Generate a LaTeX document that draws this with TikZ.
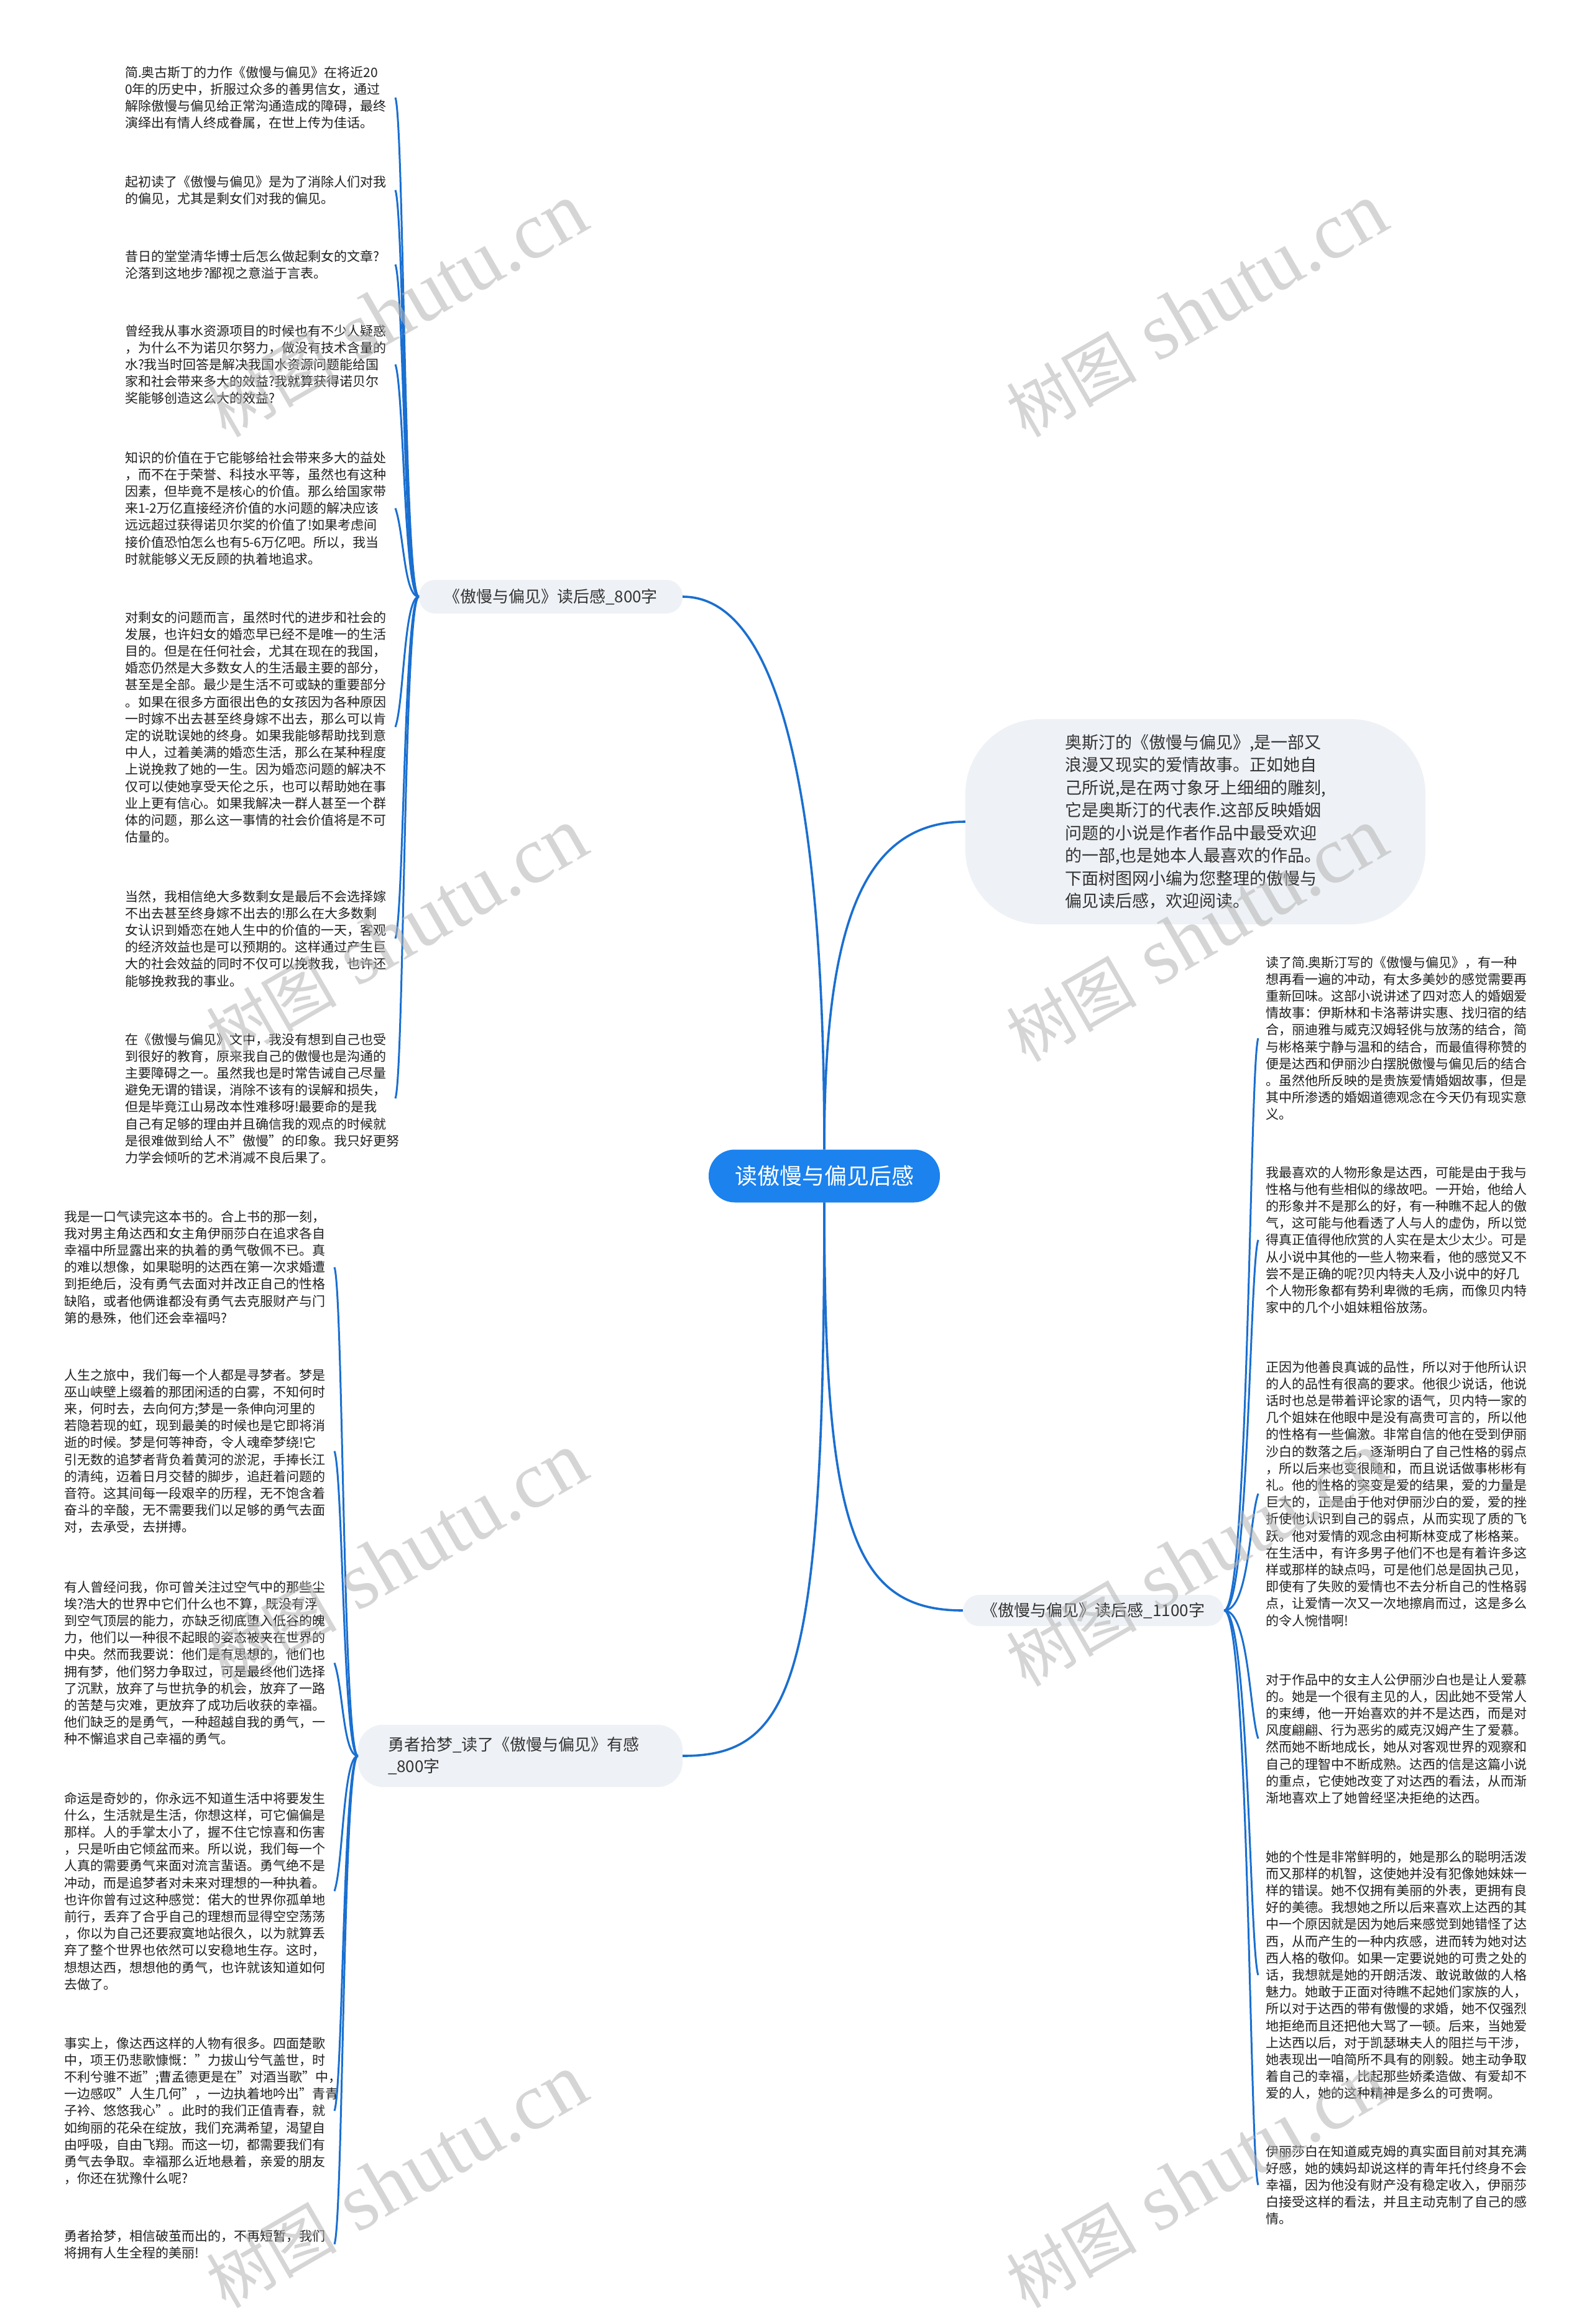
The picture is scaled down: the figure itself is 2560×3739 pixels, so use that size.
\documentclass[tikz,border=0pt]{standalone}
\usepackage{fontspec}
\setmainfont{Noto Sans CJK SC}
\newfontfamily\wmlatin{Liberation Serif}
\definecolor{linecol}{HTML}{1A6FD0}
\definecolor{nodeblue}{HTML}{1B82EE}
\definecolor{pillgray}{HTML}{EEF1F5}
\definecolor{leaftext}{HTML}{1F1F1F}
\definecolor{labeltext}{HTML}{333333}
\definecolor{wmgray}{HTML}{B4B4B4}
\begin{document}
\begin{tikzpicture}[x=1pt,y=-1pt,
  leaf/.style={anchor=base west, text width=423pt, align=left, inner sep=0pt, outer xsep=12pt,
    font=\fontsize{21}{27.2}\selectfont, text=leaftext},
  pill/.style={fill=pillgray, text=labeltext, rounded corners=26pt, inner sep=0pt,
    font=\fontsize{26}{35}\selectfont},
  mainline/.style={draw=linecol, line width=3.6pt},
  leafline/.style={draw=linecol, line width=3pt},
  wmark/.style={text=wmgray, opacity=0.55, rotate=30, inner sep=0pt}
]
\fill[white] (0,0) rectangle (2560,3739);
\useasboundingbox (0,0) rectangle (2560,3739);

% central node
\node[fill=nodeblue, text=white, rounded corners=42pt, minimum width=372pt, minimum height=85pt,
  font=\fontsize{36}{40}\selectfont] (center) at (1326,1892) {读傲慢与偏见后感};

% intro bubble
\node[fill=pillgray, text=labeltext, rounded corners=120pt, text width=420pt, align=left,
  minimum width=740pt, minimum height=330pt, inner sep=0pt,
  font=\fontsize{27}{36.5}\selectfont] (intro) at (1923,1322) {奥斯汀的《傲慢与偏见》,是一部又\\
浪漫又现实的爱情故事。正如她自\\
己所说,是在两寸象牙上细细的雕刻,\\
它是奥斯汀的代表作.这部反映婚姻\\
问题的小说是作者作品中最受欢迎\\
的一部,也是她本人最喜欢的作品。\\
下面树图网小编为您整理的傲慢与\\
偏见读后感，欢迎阅读。};

% branch labels
\node[pill, minimum width=424pt, minimum height=54pt] (b1) at (886,960) {《傲慢与偏见》读后感\_800字};
\node[pill, minimum width=420pt, minimum height=50pt] (b2) at (1759,2591) {《傲慢与偏见》读后感\_1100字};
\node[pill, text width=426pt, align=left, minimum width=522pt, minimum height=100pt, rounded corners=40pt] (b3) at (837,2825) {勇者拾梦\_读了《傲慢与偏见》有感\\\_800字};

% left-top leaves
\node[leaf] (l1) at (189,124) {简.奥古斯丁的力作《傲慢与偏见》在将近20\\
0年的历史中，折服过众多的善男信女，通过\\
解除傲慢与偏见给正常沟通造成的障碍，最终\\
演绎出有情人终成眷属，在世上传为佳话。};
\node[leaf] (l2) at (189,300) {起初读了《傲慢与偏见》是为了消除人们对我\\
的偏见，尤其是剩女们对我的偏见。};
\node[leaf] (l3) at (189,420) {昔日的堂堂清华博士后怎么做起剩女的文章?\\
沦落到这地步?鄙视之意溢于言表。};
\node[leaf] (l4) at (189,540) {曾经我从事水资源项目的时候也有不少人疑惑\\
，为什么不为诺贝尔努力，做没有技术含量的\\
水?我当时回答是解决我国水资源问题能给国\\
家和社会带来多大的效益?我就算获得诺贝尔\\
奖能够创造这么大的效益?};
\node[leaf] (l5) at (189,744) {知识的价值在于它能够给社会带来多大的益处\\
，而不在于荣誉、科技水平等，虽然也有这种\\
因素，但毕竟不是核心的价值。那么给国家带\\
来1-2万亿直接经济价值的水问题的解决应该\\
远远超过获得诺贝尔奖的价值了!如果考虑间\\
接价值恐怕怎么也有5-6万亿吧。所以，我当\\
时就能够义无反顾的执着地追求。};
\node[leaf] (l6) at (189,1001) {对剩女的问题而言，虽然时代的进步和社会的\\
发展，也许妇女的婚恋早已经不是唯一的生活\\
目的。但是在任何社会，尤其在现在的我国，\\
婚恋仍然是大多数女人的生活最主要的部分，\\
甚至是全部。最少是生活不可或缺的重要部分\\
。如果在很多方面很出色的女孩因为各种原因\\
一时嫁不出去甚至终身嫁不出去，那么可以肯\\
定的说耽误她的终身。如果我能够帮助找到意\\
中人，过着美满的婚恋生活，那么在某种程度\\
上说挽救了她的一生。因为婚恋问题的解决不\\
仅可以使她享受天伦之乐，也可以帮助她在事\\
业上更有信心。如果我解决一群人甚至一个群\\
体的问题，那么这一事情的社会价值将是不可\\
估量的。};
\node[leaf] (l7) at (189,1450) {当然，我相信绝大多数剩女是最后不会选择嫁\\
不出去甚至终身嫁不出去的!那么在大多数剩\\
女认识到婚恋在她人生中的价值的一天，客观\\
的经济效益也是可以预期的。这样通过产生巨\\
大的社会效益的同时不仅可以挽救我，也许还\\
能够挽救我的事业。};
\node[leaf] (l8) at (189,1680) {在《傲慢与偏见》文中，我没有想到自己也受\\
到很好的教育，原来我自己的傲慢也是沟通的\\
主要障碍之一。虽然我也是时常告诫自己尽量\\
避免无谓的错误，消除不该有的误解和损失，\\
但是毕竟江山易改本性难移呀!最要命的是我\\
自己有足够的理由并且确信我的观点的时候就\\
是很难做到给人不"傲慢"的印象。我只好更努\\
力学会倾听的艺术消减不良后果了。};

% left-bottom leaves
\node[leaf] (m1) at (91,1965) {我是一口气读完这本书的。合上书的那一刻，\\
我对男主角达西和女主角伊丽莎白在追求各自\\
幸福中所显露出来的执着的勇气敬佩不已。真\\
的难以想像，如果聪明的达西在第一次求婚遭\\
到拒绝后，没有勇气去面对并改正自己的性格\\
缺陷，或者他俩谁都没有勇气去克服财产与门\\
第的悬殊，他们还会幸福吗?};
\node[leaf] (m2) at (91,2220) {人生之旅中，我们每一个人都是寻梦者。梦是\\
巫山峡壁上缀着的那团闲适的白雾，不知何时\\
来，何时去，去向何方;梦是一条伸向河里的\\
若隐若现的虹，现到最美的时候也是它即将消\\
逝的时候。梦是何等神奇，令人魂牵梦绕!它\\
引无数的追梦者背负着黄河的淤泥，手捧长江\\
的清纯，迈着日月交替的脚步，追赶着问题的\\
音符。这其间每一段艰辛的历程，无不饱含着\\
奋斗的辛酸，无不需要我们以足够的勇气去面\\
对，去承受，去拼搏。};
\node[leaf] (m3) at (91,2561) {有人曾经问我，你可曾关注过空气中的那些尘\\
埃?浩大的世界中它们什么也不算，既没有浮\\
到空气顶层的能力，亦缺乏彻底堕入低谷的魄\\
力，他们以一种很不起眼的姿态被夹在世界的\\
中央。然而我要说：他们是有思想的，他们也\\
拥有梦，他们努力争取过，可是最终他们选择\\
了沉默，放弃了与世抗争的机会，放弃了一路\\
的苦楚与灾难，更放弃了成功后收获的幸福。\\
他们缺乏的是勇气，一种超越自我的勇气，一\\
种不懈追求自己幸福的勇气。};
\node[leaf] (m4) at (91,2901) {命运是奇妙的，你永远不知道生活中将要发生\\
什么，生活就是生活，你想这样，可它偏偏是\\
那样。人的手掌太小了，握不住它惊喜和伤害\\
，只是听由它倾盆而来。所以说，我们每一个\\
人真的需要勇气来面对流言蜚语。勇气绝不是\\
冲动，而是追梦者对未来对理想的一种执着。\\
也许你曾有过这种感觉：偌大的世界你孤单地\\
前行，丢弃了合乎自己的理想而显得空空荡荡\\
，你以为自己还要寂寞地站很久，以为就算丢\\
弃了整个世界也依然可以安稳地生存。这时，\\
想想达西，想想他的勇气，也许就该知道如何\\
去做了。};
\node[leaf] (m5) at (91,3295) {事实上，像达西这样的人物有很多。四面楚歌\\
中，项王仍悲歌慷慨："力拔山兮气盖世，时\\
不利兮骓不逝";曹孟德更是在"对酒当歌"中，\\
一边感叹"人生几何"，一边执着地吟出"青青\\
子衿、悠悠我心"。此时的我们正值青春，就\\
如绚丽的花朵在绽放，我们充满希望，渴望自\\
由呼吸，自由飞翔。而这一切，都需要我们有\\
勇气去争取。幸福那么近地悬着，亲爱的朋友\\
，你还在犹豫什么呢?};
\node[leaf] (m6) at (91,3605) {勇者拾梦，相信破茧而出的，不再短暂，我们\\
将拥有人生全程的美丽!};

% right leaves
\node[leaf] (r1) at (2024,1556) {读了简.奥斯汀写的《傲慢与偏见》，有一种\\
想再看一遍的冲动，有太多美妙的感觉需要再\\
重新回味。这部小说讲述了四对恋人的婚姻爱\\
情故事：伊斯林和卡洛蒂讲实惠、找归宿的结\\
合，丽迪雅与威克汉姆轻佻与放荡的结合，简\\
与彬格莱宁静与温和的结合，而最值得称赞的\\
便是达西和伊丽沙白摆脱傲慢与偏见后的结合\\
。虽然他所反映的是贵族爱情婚姻故事，但是\\
其中所渗透的婚姻道德观念在今天仍有现实意\\
义。};
\node[leaf] (r2) at (2024,1894) {我最喜欢的人物形象是达西，可能是由于我与\\
性格与他有些相似的缘故吧。一开始，他给人\\
的形象并不是那么的好，有一种瞧不起人的傲\\
气，这可能与他看透了人与人的虚伪，所以觉\\
得真正值得他欣赏的人实在是太少太少。可是\\
从小说中其他的一些人物来看，他的感觉又不\\
尝不是正确的呢?贝内特夫人及小说中的好几\\
个人物形象都有势利卑微的毛病，而像贝内特\\
家中的几个小姐妹粗俗放荡。};
\node[leaf] (r3) at (2024,2207) {正因为他善良真诚的品性，所以对于他所认识\\
的人的品性有很高的要求。他很少说话，他说\\
话时也总是带着评论家的语气，贝内特一家的\\
几个姐妹在他眼中是没有高贵可言的，所以他\\
的性格有一些偏激。非常自信的他在受到伊丽\\
沙白的数落之后，逐渐明白了自己性格的弱点\\
，所以后来也变很随和，而且说话做事彬彬有\\
礼。他的性格的突变是爱的结果，爱的力量是\\
巨大的，正是由于他对伊丽沙白的爱，爱的挫\\
折使他认识到自己的弱点，从而实现了质的飞\\
跃。他对爱情的观念由柯斯林变成了彬格莱。\\
在生活中，有许多男子他们不也是有着许多这\\
样或那样的缺点吗，可是他们总是固执己见，\\
即使有了失败的爱情也不去分析自己的性格弱\\
点，让爱情一次又一次地擦肩而过，这是多么\\
的令人惋惜啊!};
\node[leaf] (r4) at (2024,2710) {对于作品中的女主人公伊丽沙白也是让人爱慕\\
的。她是一个很有主见的人，因此她不受常人\\
的束缚，他一开始喜欢的并不是达西，而是对\\
风度翩翩、行为恶劣的威克汉姆产生了爱慕。\\
然而她不断地成长，她从对客观世界的观察和\\
自己的理智中不断成熟。达西的信是这篇小说\\
的重点，它使她改变了对达西的看法，从而渐\\
渐地喜欢上了她曾经坚决拒绝的达西。};
\node[leaf] (r5) at (2024,2995) {她的个性是非常鲜明的，她是那么的聪明活泼\\
而又那样的机智，这使她并没有犯像她妹妹一\\
样的错误。她不仅拥有美丽的外表，更拥有良\\
好的美德。我想她之所以后来喜欢上达西的其\\
中一个原因就是因为她后来感觉到她错怪了达\\
西，从而产生的一种内疚感，进而转为她对达\\
西人格的敬仰。如果一定要说她的可贵之处的\\
话，我想就是她的开朗活泼、敢说敢做的人格\\
魅力。她敢于正面对待瞧不起她们家族的人，\\
所以对于达西的带有傲慢的求婚，她不仅强烈\\
地拒绝而且还把他大骂了一顿。后来，当她爱\\
上达西以后，对于凯瑟琳夫人的阻拦与干涉，\\
她表现出一咱简所不具有的刚毅。她主动争取\\
着自己的幸福，比起那些娇柔造做、有爱却不\\
爱的人，她的这种精神是多么的可贵啊。};
\node[leaf] (r6) at (2024,3469) {伊丽莎白在知道威克姆的真实面目前对其充满\\
好感，她的姨妈却说这样的青年托付终身不会\\
幸福，因为他没有财产没有稳定收入，伊丽莎\\
白接受这样的看法，并且主动克制了自己的感\\
情。};

% main connectors
\draw[mainline] (center.north) .. controls +(0,-550) and +(160,0) .. (b1.east);
\draw[mainline] (center.north) .. controls +(0,-350) and +(-170,0) .. (intro.west);
\draw[mainline] (center.south) .. controls +(0,515) and +(-180,0) .. (b2.west);
\draw[mainline] (center.south) .. controls +(0,765) and +(180,0) .. (b3.east);

% branch 1 connectors
\foreach \n/\s in {l1/40,l2/40,l3/40,l4/40,l5/40,l6/-40,l7/-40,l8/-40}
  \draw[leafline] (b1.west) .. controls +(-24,0) and +(14,\s) .. (\n.east);
% branch 3 connectors
\foreach \n/\s in {m1/40,m2/40,m3/40,m4/-40,m5/-40,m6/-40}
  \draw[leafline] (b3.west) .. controls +(-24,0) and +(14,\s) .. (\n.east);
% branch 2 connectors
\foreach \n/\s in {r1/40,r2/40,r3/40,r4/-40,r5/-40,r6/-40}
  \draw[leafline] (b2.east) .. controls +(40,0) and +(-14,\s) .. (\n.west);

% watermarks
\foreach \i/\px/\py in {1/638/500,2/1925/500,3/638/1505,4/1925/1505,5/638/2510,6/1925/2510,7/638/3510,8/1925/3510}
  \node[wmark] (wm\i) at (\px,\py) {{\fontsize{105}{105}\selectfont 树图}\hspace{34pt}{\wmlatin\fontsize{130}{130}\selectfont shutu.cn}};
\end{tikzpicture}
\end{document}
